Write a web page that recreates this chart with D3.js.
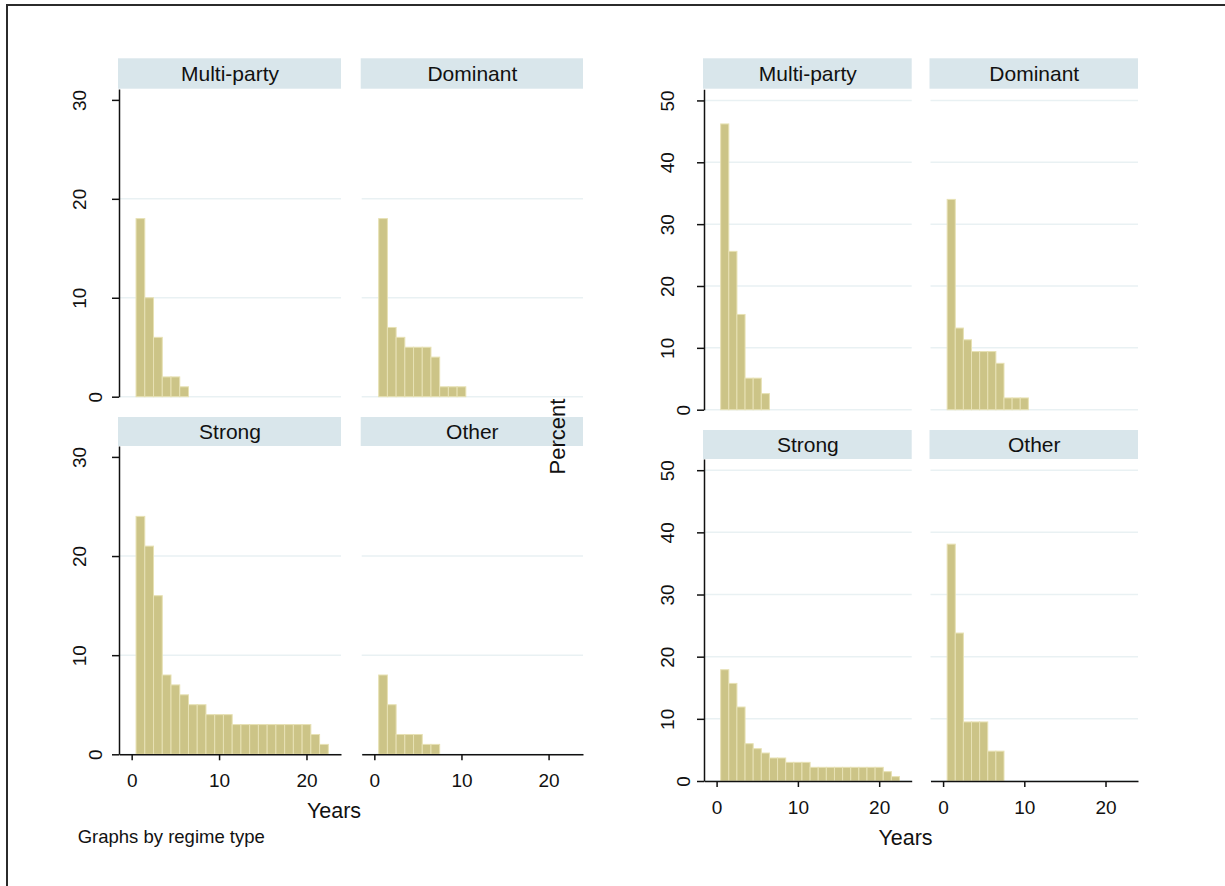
<!DOCTYPE html>
<html>
<head>
<meta charset="utf-8">
<script src="https://cdn.jsdelivr.net/npm/d3@7"></script>
<style>
  html, body { margin: 0; padding: 0; background: #fff; }
  svg { display: block; }
</style>
</head>
<body>
<svg width="1225" height="886"></svg>
<script>
// panel labels (by regime type)
var regimes = ["Multi-party", "Dominant", "Strong", "Other"];

// left graph: frequency per year in office (bins centred on 1, 2, 3, ...)
var freqMulti    = [18, 10, 6, 2, 2, 1];
var freqDominant = [18, 7, 6, 5, 5, 5, 4, 1, 1, 1];
var freqStrong   = [24, 21, 16, 8, 7, 6, 5, 5, 4, 4, 4, 3, 3, 3, 3, 3, 3, 3, 3, 3, 2, 1];
var freqOther    = [8, 5, 2, 2, 2, 1, 1];

// right graph: percent per year in office
var pctMulti    = [46.2, 25.6, 15.4, 5.1, 5.1, 2.6];
var pctDominant = [34.0, 13.2, 11.3, 9.4, 9.4, 9.4, 7.5, 1.9, 1.9, 1.9];
var pctStrong   = [17.9, 15.7, 11.9, 6.0, 5.2, 4.5, 3.7, 3.7, 3.0, 3.0, 3.0, 2.2, 2.2, 2.2, 2.2, 2.2, 2.2, 2.2, 2.2, 2.2, 1.5, 0.7];
var pctOther    = [38.1, 23.8, 9.5, 9.5, 9.5, 4.8, 4.8];

// tick labels
var xTicks = [0, 10, 20];
var freqTicks = [0, 10, 20, 30];
var pctTicks = [0, 10, 20, 30, 40, 50];

var FONT = '"Liberation Sans", Arial, Helvetica, sans-serif';
var barFill = "#ccc487", barLine = "#e7e1b4";
var stripFill = "#d9e6eb", gridColor = "#e9f1f3", ink = "#111";

var svg = d3.select("svg").attr("font-family", FONT);

// outer frame (cropped on right and bottom)
svg.append("rect")
    .attr("x", 7).attr("y", 5)
    .attr("width", 1400).attr("height", 1100)
    .attr("fill", "none")
    .attr("stroke", "#2b2b2b")
    .attr("stroke-width", 2);

function drawChart(cfg) {
  var g = svg.append("g");

  cfg.values.forEach(function(vals, i) {
    var col = cfg.cols[i % 2];
    var row = cfg.rows[Math.floor(i / 2)];

    var x = d3.scaleLinear().domain(cfg.xDomain).range(col);
    var y = d3.scaleLinear().domain([0, cfg.yMax]).range([row.plot[1], row.plot[0]]);

    // strip header
    g.append("rect")
        .attr("x", col[0] - 1)
        .attr("y", row.strip[0])
        .attr("width", col[1] - col[0] + 1)
        .attr("height", row.strip[1] - row.strip[0])
        .attr("fill", stripFill);
    g.append("text")
        .attr("x", (col[0] + col[1]) / 2)
        .attr("y", (row.strip[0] + row.strip[1]) / 2 + 7.5)
        .attr("text-anchor", "middle")
        .attr("font-size", 21)
        .attr("fill", ink)
        .text(regimes[i]);

    // gridlines
    g.append("g").selectAll("line")
      .data(cfg.grid)
      .join("line")
        .attr("x1", col[0]).attr("x2", col[1])
        .attr("y1", d => y(d)).attr("y2", d => y(d))
        .attr("stroke", gridColor)
        .attr("stroke-width", 1.5);

    // histogram bars, width 1 year
    g.append("g").selectAll("rect")
      .data(vals)
      .join("rect")
        .attr("x", (d, j) => x(j + 0.5))
        .attr("width", (d, j) => x(j + 1.5) - x(j + 0.5))
        .attr("y", d => y(d))
        .attr("height", d => y(0) - y(d))
        .attr("fill", barFill)
        .attr("stroke", barLine)
        .attr("stroke-width", 1);

    // y axis on the first column
    if (i % 2 == 0) {
      var ya = g.append("g")
          .attr("transform", "translate(" + col[0] + ",0)")
          .call(d3.axisLeft(y).tickValues(cfg.yTicks).tickSize(7).tickSizeOuter(0));
      ya.attr("font-family", FONT).attr("font-size", 19).attr("color", ink);
      ya.selectAll("path, line").attr("stroke-width", 1.5);
      ya.selectAll("text")
          .attr("x", 0).attr("dy", 0)
          .attr("text-anchor", "middle")
          .attr("transform", d => "translate(" + (-cfg.yLabOff[String(d).length]) + ",0) rotate(-90)");
    }

    // x axis on the bottom row
    if (i >= 2) {
      var xa = g.append("g")
          .attr("transform", "translate(0," + row.plot[1] + ")")
          .call(d3.axisBottom(x).tickValues(xTicks).tickSize(6).tickSizeOuter(0));
      xa.attr("font-family", FONT).attr("font-size", 19).attr("color", ink);
      xa.selectAll("path, line").attr("stroke-width", 1.5);
      xa.selectAll("text").attr("y", 32.5).attr("dy", 0);
    }
  });

  g.append("text")
      .attr("x", cfg.xTitle[0]).attr("y", cfg.xTitle[1])
      .attr("text-anchor", "middle")
      .attr("font-size", 21.5)
      .attr("fill", ink)
      .text("Years");
}

// left graph: frequencies
drawChart({
  values: [freqMulti, freqDominant, freqStrong, freqOther],
  cols: [[119, 341], [361.7, 583]],
  rows: [{strip: [58.3, 88.7], plot: [89, 396.7]},
         {strip: [417, 446], plot: [446, 754.3]}],
  xDomain: [-1.45, 23.95],
  yMax: 31.1,
  yTicks: freqTicks,
  grid: [0, 10, 20],
  yLabOff: {1: 17.2, 2: 32.7},
  xTitle: [334, 818]
});

// right graph: percent
drawChart({
  values: [pctMulti, pctDominant, pctStrong, pctOther],
  cols: [[704, 911.7], [930.5, 1138]],
  rows: [{strip: [58.3, 88.7], plot: [89.3, 409.7]},
         {strip: [430, 459], plot: [459, 781]}],
  xDomain: [-1.55, 24.0],
  yMax: 51.8,
  yTicks: pctTicks,
  grid: pctTicks,
  yLabOff: {1: 13.9, 2: 30.2},
  xTitle: [905.5, 845]
});

// y title of the right graph
svg.append("text")
    .attr("transform", "translate(564.6,436.5) rotate(-90)")
    .attr("text-anchor", "middle")
    .attr("font-size", 22)
    .attr("fill", ink)
    .text("Percent");

svg.append("text")
    .attr("x", 77.7).attr("y", 843)
    .attr("font-size", 18.5)
    .attr("fill", ink)
    .text("Graphs by regime type");
</script>
</body>
</html>
